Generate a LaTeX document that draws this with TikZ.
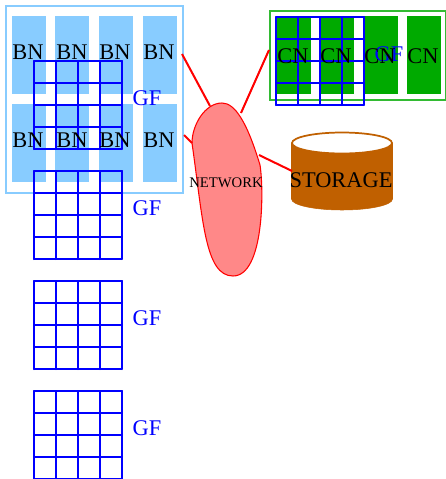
\documentclass[tikz,border=0pt]{standalone}
\usepackage{fontspec}
\setmainfont{Liberation Serif}
\definecolor{bnblue}{HTML}{88CCFF}
\definecolor{cngreen}{HTML}{00AA00}
\definecolor{netpink}{HTML}{FF8888}
\definecolor{storebrown}{HTML}{C06000}
\tikzset{
  bnbox/.style={fill=bnblue, minimum width=25.5pt, minimum height=58.5pt, inner sep=0pt},
  cnbox/.style={fill=cngreen, minimum width=25.5pt, minimum height=58.5pt, inner sep=0pt},
  bigtext/.style={anchor=base, inner sep=0pt, font=\fontsize{16.8}{18}\selectfont},
  gftext/.style={bigtext, text=blue},
  gfline/.style={draw=blue, line width=1.5pt, line join=round, line cap=round},
  netline/.style={draw=red, line width=1.5pt},
}
\begin{document}
\begin{tikzpicture}[x=0.75pt, y=-0.75pt]
    \useasboundingbox (0,0) rectangle (446,479);

    % BN cluster
    \node[draw=bnblue, line width=1.5pt, minimum width=132.75pt, minimum height=140.25pt, inner sep=0pt] (bnframe) at (94.5,99.5) {};
    \node[bnbox] (bn1) at (29,55) {};
    \node[bnbox] (bn2) at (72,55) {};
    \node[bnbox] (bn3) at (116,55) {};
    \node[bnbox] (bn4) at (160,55) {};
    \node[bnbox] (bn5) at (29,143) {};
    \node[bnbox] (bn6) at (72,143) {};
    \node[bnbox] (bn7) at (116,143) {};
    \node[bnbox] (bn8) at (160,143) {};

    % CN cluster
    \node[draw=cngreen!80!white, line width=1.5pt, minimum width=132pt, minimum height=66.75pt, inner sep=0pt] (cnframe) at (358,55.5) {};
    \node[cnbox] (cn1) at (293.5,55) {};
    \node[cnbox] (cn2) at (336.5,55) {};
    \node[cnbox] (cn3) at (380.5,55) {};
    \node[cnbox] (cn4) at (424,55) {};

    % GF grids
    \foreach \gx/\gy in {34/61, 34/171, 34/281, 34/391, 276/17} {
        \foreach \k in {0,22,44,66,88} {
            \draw[gfline] (\gx+\k,\gy) -- (\gx+\k,\gy+88);
            \draw[gfline] (\gx,\gy+\k) -- (\gx+88,\gy+\k);
        }
    }
    \node[gftext] (gf1) at (147,105) {GF};
    \node[gftext] (gf2) at (147,215) {GF};
    \node[gftext] (gf3) at (147,325) {GF};
    \node[gftext] (gf4) at (147,435) {GF};
    \node[gftext] (gf5) at (389,61) {GF};

    % Labels
    \node[bigtext] (bnt1) at (28,59) {BN};
    \node[bigtext] (bnt2) at (72,59) {BN};
    \node[bigtext] (bnt3) at (115,59) {BN};
    \node[bigtext] (bnt4) at (159,59) {BN};
    \node[bigtext] (bnt5) at (28,147) {BN};
    \node[bigtext] (bnt6) at (72,147) {BN};
    \node[bigtext] (bnt7) at (115,147) {BN};
    \node[bigtext] (bnt8) at (159,147) {BN};
    \node[bigtext] (cnt1) at (293,63) {CN};
    \node[bigtext] (cnt2) at (336,63) {CN};
    \node[bigtext] (cnt3) at (380,63) {CN};
    \node[bigtext] (cnt4) at (423,63) {CN};

    % Network
    \draw[red, fill=netpink, line width=0.8pt] (222,103) .. controls (235,103) and (247,122) .. (260,165) .. controls (264,190) and (264,276) .. (233,276) .. controls (205,276) and (203,220) .. (192,143) .. controls (192,125) and (205,103) .. (222,103) -- cycle;
    \node[inner sep=0pt, font=\fontsize{11}{12}\selectfont] (network) at (226,183) {NETWORK};

    % Storage
    \draw[storebrown, fill=storebrown] (291.5,143) -- (291.5,199) arc[start angle=180, end angle=0, x radius=50.5, y radius=11] -- (392.5,143) -- cycle;
    \draw[storebrown, fill=white, line width=1.3pt] (342,143) ellipse[x radius=50, y radius=10.5];
    \node[bigtext] (storage) at (341,187) {STORAGE};

    % Links
    \coordinate (bnout1) at (182,54);
    \coordinate (bnout2) at (184,135);
    \coordinate (cnout) at (269,50);
    \coordinate (stout) at (292,171);
    \coordinate (netin1) at (210,106);
    \coordinate (netin2) at (192,143);
    \coordinate (netin3) at (241,113);
    \coordinate (netin4) at (259,155);
    \draw[netline] (bnout1) -- (netin1);
    \draw[netline] (bnout2) -- (netin2);
    \draw[netline] (cnout) -- (netin3);
    \draw[netline] (stout) -- (netin4);
\end{tikzpicture}
\end{document}
